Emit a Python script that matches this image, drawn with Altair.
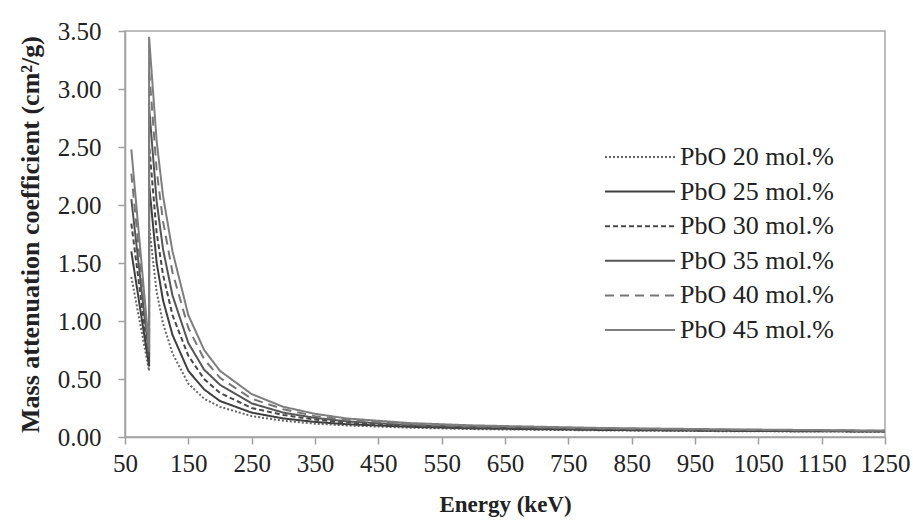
import altair as alt
import pandas as pd

# Photon energies (keV); 88 keV appears twice for the Pb K-edge (below / above)
energy = [60, 88, 88, 100, 110, 125, 150, 175, 200, 250, 300, 350, 400, 500, 600, 800, 1000, 1250]

series = ["PbO 20 mol.%", "PbO 25 mol.%", "PbO 30 mol.%",
          "PbO 35 mol.%", "PbO 40 mol.%", "PbO 45 mol.%"]

# Mass attenuation coefficient (cm2/g) per composition
mu_20 = [1.38, 0.57, 1.82, 1.25, 0.98, 0.72, 0.46, 0.33, 0.26, 0.18, 0.14, 0.115, 0.10, 0.08, 0.068, 0.057, 0.05, 0.045]
mu_25 = [1.60, 0.61, 2.18, 1.50, 1.18, 0.88, 0.57, 0.41, 0.31, 0.21, 0.16, 0.13, 0.11, 0.088, 0.074, 0.061, 0.053, 0.047]
mu_30 = [1.84, 0.65, 2.52, 1.76, 1.40, 1.05, 0.70, 0.50, 0.38, 0.25, 0.19, 0.15, 0.125, 0.097, 0.081, 0.066, 0.057, 0.049]
mu_35 = [2.05, 0.69, 2.85, 2.03, 1.62, 1.22, 0.81, 0.58, 0.45, 0.29, 0.21, 0.165, 0.135, 0.103, 0.086, 0.07, 0.06, 0.051]
mu_40 = [2.27, 0.73, 3.17, 2.30, 1.86, 1.42, 0.94, 0.67, 0.51, 0.33, 0.24, 0.18, 0.148, 0.11, 0.092, 0.074, 0.063, 0.053]
mu_45 = [2.48, 0.77, 3.45, 2.55, 2.08, 1.60, 1.05, 0.75, 0.57, 0.37, 0.26, 0.20, 0.16, 0.12, 0.10, 0.078, 0.066, 0.055]

values = [mu_20, mu_25, mu_30, mu_35, mu_40, mu_45]

x_ticks = list(range(50, 1251, 100))
y_ticks = [0, 0.5, 1, 1.5, 2, 2.5, 3, 3.5]

rows = []
for name, vals in zip(series, values):
    for i, (e, v) in enumerate(zip(energy, vals)):
        rows.append({"series": name, "energy": e, "mu": v, "idx": i})
df = pd.DataFrame(rows)
legend_df = pd.DataFrame({"series": series})

line_colors = ["#666666", "#3f3f3f", "#484848", "#555555", "#767676", "#7e7e7e"]
line_dashes = [[2, 2], [1, 0], [5, 3], [1, 0], [9, 6], [1, 0]]

serif = "Liberation Serif"

color_enc = alt.Color("series:N", scale=alt.Scale(domain=series, range=line_colors), legend=None)
dash_enc = alt.StrokeDash("series:N", scale=alt.Scale(domain=series, range=line_dashes), legend=None)

curves = alt.Chart(df).mark_line(strokeWidth=2).encode(
    x=alt.X("energy:Q",
            scale=alt.Scale(domain=[50, 1250], nice=False, zero=False),
            axis=alt.Axis(values=x_ticks, format="d", labelOverlap=False, labelFlush=False,
                          title="Energy (keV)", tickSize=7, labelPadding=7, titlePadding=17,
                          labelFontSize=25, titleFontSize=23, grid=False)),
    y=alt.Y("mu:Q",
            scale=alt.Scale(domain=[0, 3.5], nice=False),
            axis=alt.Axis(values=y_ticks, format=".2f", labelOverlap=False, labelFlush=False,
                          title="Mass attenuation coefficient (cm²/g)",
                          tickSize=7, labelPadding=17, titlePadding=14,
                          labelFontSize=25, titleFontSize=26, grid=False)),
    color=color_enc,
    strokeDash=dash_enc,
    order="idx:Q",
)

# Legend drawn as its own layer: a short line sample and a label per series
legend_y = alt.Y("series:N", scale=alt.Scale(type="point", domain=series, range=[126, 299], padding=0),
                 axis=None)

legend_lines = alt.Chart(legend_df).mark_rule(strokeWidth=2).encode(
    x=alt.value(480), x2=alt.value(550), y=legend_y,
    color=color_enc, strokeDash=dash_enc,
)

legend_text = alt.Chart(legend_df).mark_text(
    align="left", baseline="middle", font=serif, fontSize=26, color="#222222"
).encode(
    x=alt.value(555), y=legend_y, text="series:N",
)

chart = alt.layer(curves, legend_lines, legend_text).resolve_scale(
    y="independent"
).properties(
    width=760,
    height=406,
    autosize=alt.AutoSizeParams(type="none"),
    padding={"left": 125, "top": 31, "right": 28, "bottom": 90},
    background="white",
).configure_view(
    stroke="#a8a8a8", strokeWidth=1.5
).configure_axis(
    labelFont=serif, titleFont=serif, labelColor="#222222", titleColor="#222222",
    titleFontWeight="bold", domainColor="#a0a0a0", tickColor="#a0a0a0",
    domainWidth=1.5, tickWidth=1.5
)

chart.save("out.html", embed_options={"renderer": "svg", "actions": False})
